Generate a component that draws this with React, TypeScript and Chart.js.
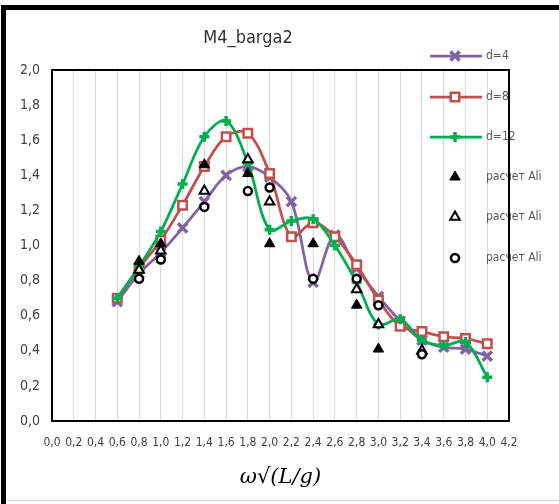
import React, { useEffect, useRef } from 'react';
import { Chart, registerables } from 'chart.js';
import { drawPoint } from 'chart.js/helpers';

Chart.register(...registerables);

// ---- data ----
const chartTitle = 'M4_barga2';
const xAxisTitle = 'ω√(L/g)';
const xValues = [0.6, 0.8, 1.0, 1.2, 1.4, 1.6, 1.8, 2.0, 2.2, 2.4, 2.6, 2.8, 3.0, 3.2, 3.4, 3.6, 3.8, 4.0];
const d4Values = [0.68, 0.84, 0.96, 1.10, 1.25, 1.40, 1.45, 1.39, 1.25, 0.79, 1.06, 0.87, 0.71, 0.57, 0.46, 0.42, 0.41, 0.37];
const d8Values = [0.70, 0.87, 1.03, 1.23, 1.45, 1.62, 1.64, 1.41, 1.05, 1.13, 1.05, 0.89, 0.69, 0.54, 0.51, 0.48, 0.47, 0.44];
const d12Values = [0.70, 0.88, 1.08, 1.35, 1.62, 1.71, 1.47, 1.09, 1.14, 1.15, 1.00, 0.79, 0.55, 0.58, 0.46, 0.43, 0.45, 0.25];
const aliFilledX = [0.8, 1.0, 1.4, 1.8, 2.0, 2.4, 2.8, 3.0, 3.4];
const aliFilledY = [0.91, 1.01, 1.46, 1.41, 1.01, 1.01, 0.66, 0.41, 0.40];
const aliOpenX = [0.8, 1.0, 1.4, 1.8, 2.0, 2.8, 3.0, 3.4];
const aliOpenY = [0.86, 0.97, 1.31, 1.49, 1.25, 0.75, 0.55, 0.40];
const aliCircleX = [0.8, 1.0, 1.4, 1.8, 2.0, 2.4, 2.8, 3.0, 3.4];
const aliCircleY = [0.81, 0.92, 1.22, 1.31, 1.33, 0.81, 0.81, 0.66, 0.38];
const seriesLabels = ['d=4', 'd=8', 'd=12', 'расчет Ali', 'расчет Ali', 'расчет Ali'];
const xMin = 0, xMax = 4.2, xStep = 0.2;
const yMin = 0, yMax = 2.0, yStep = 0.2;

const FONT = "'Liberation Sans Narrow', 'DejaVu Sans Condensed', 'Liberation Sans', sans-serif";

const fmt = (v: number) => Number(v).toFixed(1).replace('.', ',');
const pts = (xs: number[], ys: number[]) => xs.map((x, i) => ({ x, y: ys[i] }));

const framePlugin = {
  id: 'frameAndLegend',
  beforeDraw(chart: any) {
    const ctx = chart.ctx;
    ctx.save();
    ctx.fillStyle = '#ffffff';
    ctx.fillRect(0, 0, chart.width, chart.height);
    ctx.fillStyle = '#000000';
    ctx.fillRect(1, 5, 5, chart.height - 5);
    ctx.fillRect(1, 5, chart.width - 1, 5);
    ctx.fillStyle = '#d9d9d9';
    ctx.fillRect(6, chart.height - 4, chart.width - 6, 1);
    // title
    ctx.fillStyle = '#333333';
    ctx.font = `18px ${FONT}`;
    ctx.textAlign = 'center';
    ctx.textBaseline = 'middle';
    ctx.fillText(chartTitle, 248, 38);
    ctx.restore();
  },
  afterDraw(chart: any) {
    const ctx = chart.ctx;
    const ys = [56, 97, 137, 177, 217, 258];
    chart.data.datasets.forEach((ds: any, i: number) => {
      const y = ys[i];
      ctx.save();
      if (ds.showLine) {
        ctx.strokeStyle = ds.borderColor;
        ctx.lineWidth = ds.borderWidth;
        ctx.beginPath();
        ctx.moveTo(430, y);
        ctx.lineTo(482, y);
        ctx.stroke();
      }
      ctx.fillStyle = ds.pointBackgroundColor;
      ctx.strokeStyle = ds.pointBorderColor;
      ctx.lineWidth = ds.pointBorderWidth;
      drawPoint(ctx, { pointStyle: ds.pointStyle, radius: ds.pointRadius, borderWidth: ds.pointBorderWidth, rotation: 0 } as any, 455, y);
      ctx.fillStyle = '#595959';
      ctx.font = `12px ${FONT}`;
      ctx.textAlign = 'left';
      ctx.textBaseline = 'middle';
      ctx.fillText(ds.label, 486, y);
      ctx.restore();
    });
    const a = chart.chartArea;
    ctx.save();
    ctx.strokeStyle = '#000000';
    ctx.lineWidth = 2;
    ctx.strokeRect(a.left, a.top, a.right - a.left, a.bottom - a.top);
    ctx.restore();
  },
};

export default function App() {
  const ref = useRef<HTMLCanvasElement>(null);
  useEffect(() => {
    if (!ref.current) return;
    const lineCommon = { showLine: true, tension: 0.35, borderWidth: 2.75, fill: false };
    const chart = new Chart(ref.current, {
      type: 'scatter',
      data: {
        datasets: [
          {
            ...lineCommon, label: seriesLabels[0], data: pts(xValues, d4Values), order: 6,
            borderColor: '#8064A2', pointStyle: 'crossRot', pointRadius: 6.5, pointBorderWidth: 3.5,
            pointBorderColor: '#8064A2', pointBackgroundColor: '#8064A2',
          },
          {
            ...lineCommon, label: seriesLabels[1], data: pts(xValues, d8Values), order: 5,
            borderColor: '#C0504D', pointStyle: 'rect', pointRadius: 6, pointBorderWidth: 2.5,
            pointBorderColor: '#C0504D', pointBackgroundColor: '#ffffff',
          },
          {
            ...lineCommon, label: seriesLabels[2], data: pts(xValues, d12Values), order: 4,
            borderColor: '#00B050', pointStyle: 'cross', pointRadius: 5, pointBorderWidth: 3.5,
            pointBorderColor: '#00B050', pointBackgroundColor: '#00B050',
          },
          {
            label: seriesLabels[3], data: pts(aliFilledX, aliFilledY), order: 3, showLine: false,
            pointStyle: 'triangle', pointRadius: 6, pointBorderWidth: 1,
            pointBorderColor: '#000000', pointBackgroundColor: '#000000', borderColor: '#000000',
          },
          {
            label: seriesLabels[4], data: pts(aliOpenX, aliOpenY), order: 2, showLine: false,
            pointStyle: 'triangle', pointRadius: 5.5, pointBorderWidth: 2,
            pointBorderColor: '#000000', pointBackgroundColor: '#ffffff', borderColor: '#000000',
          },
          {
            label: seriesLabels[5], data: pts(aliCircleX, aliCircleY), order: 1, showLine: false,
            pointStyle: 'circle', pointRadius: 4, pointBorderWidth: 2.5,
            pointBorderColor: '#000000', pointBackgroundColor: '#ffffff', borderColor: '#000000',
          },
        ] as any,
      },
      options: {
        animation: false,
        responsive: false,
        devicePixelRatio: 1,
        layout: { padding: { left: 10, right: 50, top: 70, bottom: 0 } },
        plugins: { legend: { display: false }, title: { display: false }, tooltip: { enabled: false } },
        scales: {
          x: {
            type: 'linear', min: xMin, max: xMax,
            ticks: {
              stepSize: xStep, autoSkip: false, maxRotation: 0, padding: 15,
              color: '#404040', font: { family: FONT, size: 12 },
              callback: (v: any) => fmt(v),
            },
            grid: { display: true, color: '#d9d9d9', lineWidth: 1, drawTicks: false },
            border: { display: true, color: '#000000', width: 2 },
            title: {
              display: true, text: xAxisTitle, color: '#000000',
              font: { family: "'DejaVu Serif', 'Liberation Serif', serif", size: 21, style: 'italic' },
              padding: { top: 0, bottom: 14 },
            },
            afterFit: (s: any) => { s.height = 83; },
          },
          y: {
            type: 'linear', min: yMin, max: yMax,
            ticks: {
              stepSize: yStep, padding: 12, color: '#404040', font: { family: FONT, size: 14 },
              callback: (v: any) => fmt(v),
            },
            grid: { display: false, drawTicks: false },
            border: { display: true, color: '#000000', width: 2 },
            afterFit: (s: any) => { s.width = 42; },
          },
        },
      } as any,
      plugins: [framePlugin],
    });
    return () => chart.destroy();
  }, []);
  return (
    <div style={{ position: 'fixed', left: 0, top: 0, width: 559, height: 504 }}>
      <canvas ref={ref} width={559} height={504} style={{ display: 'block' }} />
    </div>
  );
}
